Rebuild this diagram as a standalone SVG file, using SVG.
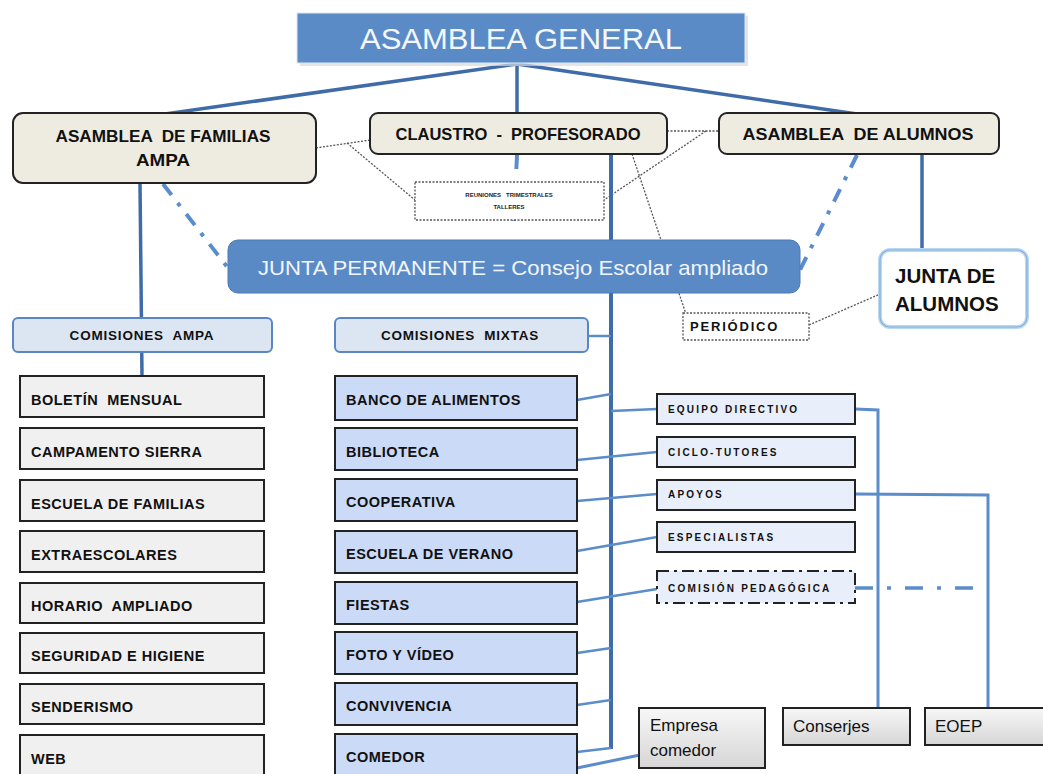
<svg xmlns="http://www.w3.org/2000/svg" width="1043" height="774" viewBox="0 0 1043 774">
<defs>
<linearGradient id="gray" x1="0" y1="0" x2="0" y2="1">
<stop offset="0" stop-color="#f7f7f7"/><stop offset="1" stop-color="#d6d6d6"/>
</linearGradient>
</defs>
<style>
text{font-family:"Liberation Sans",Arial,sans-serif;white-space:pre;}
.solid{stroke:#3f6ca8;stroke-width:3.5;fill:none;}
.thin{stroke:#5b8ccb;stroke-width:2.5;fill:none;}
.dashdot{stroke:#5b8ccb;stroke-width:4;fill:none;stroke-dasharray:14 10 4 10;}
.dotted{stroke:#555;stroke-width:1.3;fill:none;stroke-dasharray:2 1.5;}
.top{fill:#eeece1;stroke:#222;stroke-width:2;}
.toptxt{font-size:17px;font-weight:bold;fill:#111;text-anchor:middle;}
.com{fill:#dce6f2;stroke:#5a87c0;stroke-width:2;}
.comtxt{font-size:13.5px;font-weight:bold;fill:#111;text-anchor:middle;letter-spacing:0.8px;}
.ampa{fill:#f0f0f0;stroke:#222;stroke-width:2;}
.mix{fill:#cbdaf6;stroke:#222;stroke-width:2;}
.itxt{font-size:14.5px;font-weight:bold;fill:#111;letter-spacing:0.5px;}
.eq{fill:#e9effa;stroke:#222;stroke-width:2;}
.eqtxt{font-size:10px;font-weight:bold;fill:#111;letter-spacing:2.2px;}
.grey{fill:url(#gray);stroke:#222;stroke-width:2;}
.gtxt{font-size:17px;fill:#111;}
</style>
<g id="connectors">
<line class="solid" x1="517" y1="64" x2="165" y2="114"/>
<line class="solid" x1="517" y1="64" x2="517" y2="114"/>
<line class="solid" x1="517" y1="64" x2="857" y2="114"/>
<line class="dotted" x1="316" y1="148" x2="370" y2="140"/>
<line class="dotted" x1="347" y1="143" x2="415" y2="200"/>
<line class="dotted" x1="667" y1="131" x2="719" y2="131"/>
<line class="dotted" x1="706" y1="131" x2="604" y2="200"/>
<line class="dotted" x1="632" y1="154" x2="686" y2="314"/>
<line class="dotted" x1="809" y1="325" x2="880" y2="294"/>
<line class="dashdot" x1="163" y1="184" x2="228" y2="268"/>
<line class="dashdot" x1="857" y1="155" x2="800" y2="270"/>
<line class="dashdot" x1="517" y1="155" x2="513" y2="240" style="stroke-dasharray:14 48 4 100"/>
<line class="solid" x1="140" y1="183" x2="142" y2="376"/>
<line class="solid" x1="922" y1="154" x2="922" y2="250"/>
<line class="solid" x1="611" y1="154" x2="611" y2="749" style="stroke-width:4"/>
<line class="thin" x1="588" y1="336" x2="611" y2="336"/>
<line class="thin" x1="577" y1="400" x2="611" y2="394"/>
<line class="thin" x1="611" y1="411" x2="657" y2="409"/>
<line class="thin" x1="577" y1="460" x2="657" y2="452"/>
<line class="thin" x1="577" y1="501" x2="657" y2="494"/>
<line class="thin" x1="577" y1="551" x2="657" y2="537"/>
<line class="thin" x1="577" y1="602" x2="657" y2="589"/>
<line class="thin" x1="577" y1="653" x2="611" y2="648"/>
<line class="thin" x1="577" y1="705" x2="611" y2="700"/>
<line class="thin" x1="577" y1="752" x2="611" y2="748"/>
<line class="thin" x1="577" y1="768" x2="640" y2="755" style="stroke-width:3"/>
<polyline class="thin" points="855,409 878,410 878,708" style="stroke-width:3"/>
<polyline class="thin" points="855,494 988,495 988,708" style="stroke-width:3"/>
<line class="dashdot" x1="855" y1="588" x2="976" y2="588" style="stroke-width:3.5;stroke-dasharray:18 14 4 14"/>
</g>
<g id="asamblea-general">
<rect x="300" y="16" width="448" height="50" fill="#d9d9d9" opacity="0.7"/>
<rect x="297" y="13" width="448" height="50" fill="#5b8bc6" stroke="#dfe8f4" stroke-width="1"/>
<text x="521" y="49" font-size="30" fill="#f4f7fb" text-anchor="middle" textLength="322" lengthAdjust="spacingAndGlyphs">ASAMBLEA GENERAL</text>
</g>
<g id="asamblea-familias">
<rect class="top" x="13" y="113" width="303" height="70" rx="10"/>
<text class="toptxt" x="163" y="142" textLength="215" lengthAdjust="spacingAndGlyphs">ASAMBLEA  DE FAMILIAS</text>
<text class="toptxt" x="163" y="166" textLength="54" lengthAdjust="spacingAndGlyphs">AMPA</text>
</g>
<g id="claustro">
<rect class="top" x="370" y="113" width="297" height="41" rx="8"/>
<text class="toptxt" x="518" y="140" textLength="245" lengthAdjust="spacingAndGlyphs">CLAUSTRO  -  PROFESORADO</text>
</g>
<g id="asamblea-alumnos">
<rect class="top" x="719" y="113" width="280" height="41" rx="8"/>
<text class="toptxt" x="858" y="140" textLength="231" lengthAdjust="spacingAndGlyphs">ASAMBLEA  DE ALUMNOS</text>
</g>
<g id="reuniones">
<rect x="415" y="182" width="189" height="38" fill="#fff" stroke="#555" stroke-width="1.3" stroke-dasharray="2 1.5"/>
<text x="509" y="197" font-size="6" font-weight="bold" fill="#222" text-anchor="middle">REUNIONES   TRIMESTRALES</text>
<text x="509" y="209" font-size="6" font-weight="bold" fill="#222" text-anchor="middle">TALLERES</text>
</g>
<g id="junta-permanente">
<rect x="228" y="240" width="572" height="53" rx="10" fill="#5a8ac6" stroke="#4a79b5" stroke-width="1"/>
<text x="513" y="275" font-size="21" fill="#f2f6fb" text-anchor="middle" textLength="510" lengthAdjust="spacingAndGlyphs">JUNTA PERMANENTE = Consejo Escolar ampliado</text>
</g>
<g id="junta-alumnos">
<rect x="880" y="250" width="147" height="77" rx="10" fill="#fff" stroke="#bcd7f0" stroke-width="4"/>
<rect x="880" y="250" width="147" height="77" rx="10" fill="none" stroke="#7fb0de" stroke-width="1.2"/>
<text x="895" y="283" font-size="20.5" font-weight="bold" fill="#111">JUNTA DE</text>
<text x="895" y="311" font-size="20.5" font-weight="bold" fill="#111">ALUMNOS</text>
</g>
<g id="periodico">
<rect x="683" y="313" width="126" height="27" fill="#fff" stroke="#555" stroke-width="1.3" stroke-dasharray="2 1.5"/>
<text x="690" y="331" font-size="13" font-weight="bold" fill="#111" letter-spacing="1.8">PERIÓDICO</text>
</g>
<g id="comisiones-ampa">
<rect class="com" x="13" y="318" width="259" height="34" rx="5"/>
<text class="comtxt" x="142" y="340">COMISIONES  AMPA</text>
</g>
<g id="comisiones-mixtas">
<rect class="com" x="335" y="318" width="253" height="34" rx="5"/>
<text class="comtxt" x="460" y="340">COMISIONES  MIXTAS</text>
</g>
<g id="boletin"><rect class="ampa" x="20" y="376" width="244" height="41"/><text class="itxt" x="31" y="405">BOLETÍN  MENSUAL</text></g>
<g id="campamento"><rect class="ampa" x="20" y="428" width="244" height="41"/><text class="itxt" x="31" y="457">CAMPAMENTO SIERRA</text></g>
<g id="escuela-familias"><rect class="ampa" x="20" y="480" width="244" height="41"/><text class="itxt" x="31" y="509">ESCUELA DE FAMILIAS</text></g>
<g id="extraescolares"><rect class="ampa" x="20" y="531" width="244" height="41"/><text class="itxt" x="31" y="560">EXTRAESCOLARES</text></g>
<g id="horario"><rect class="ampa" x="20" y="583" width="244" height="40"/><text class="itxt" x="31" y="611">HORARIO  AMPLIADO</text></g>
<g id="seguridad"><rect class="ampa" x="20" y="633" width="244" height="40"/><text class="itxt" x="31" y="661">SEGURIDAD E HIGIENE</text></g>
<g id="senderismo"><rect class="ampa" x="20" y="684" width="244" height="40"/><text class="itxt" x="31" y="712">SENDERISMO</text></g>
<g id="web"><rect class="ampa" x="20" y="735" width="244" height="41"/><text class="itxt" x="31" y="764">WEB</text></g>
<g id="banco"><rect class="mix" x="335" y="376" width="242" height="44"/><text class="itxt" x="346" y="405">BANCO DE ALIMENTOS</text></g>
<g id="biblioteca"><rect class="mix" x="335" y="428" width="242" height="42"/><text class="itxt" x="346" y="457">BIBLIOTECA</text></g>
<g id="cooperativa"><rect class="mix" x="335" y="479" width="242" height="42"/><text class="itxt" x="346" y="507">COOPERATIVA</text></g>
<g id="escuela-verano"><rect class="mix" x="335" y="531" width="242" height="42"/><text class="itxt" x="346" y="559">ESCUELA DE VERANO</text></g>
<g id="fiestas"><rect class="mix" x="335" y="582" width="242" height="42"/><text class="itxt" x="346" y="610">FIESTAS</text></g>
<g id="foto"><rect class="mix" x="335" y="632" width="242" height="42"/><text class="itxt" x="346" y="660">FOTO Y VÍDEO</text></g>
<g id="convivencia"><rect class="mix" x="335" y="683" width="242" height="42"/><text class="itxt" x="346" y="711">CONVIVENCIA</text></g>
<g id="comedor"><rect class="mix" x="335" y="734" width="242" height="42"/><text class="itxt" x="346" y="762">COMEDOR</text></g>
<g id="equipo-directivo"><rect class="eq" x="657" y="394" width="198" height="30"/><text class="eqtxt" x="668" y="413">EQUIPO DIRECTIVO</text></g>
<g id="ciclo-tutores"><rect class="eq" x="657" y="437" width="198" height="30"/><text class="eqtxt" x="668" y="456">CICLO-TUTORES</text></g>
<g id="apoyos"><rect class="eq" x="657" y="480" width="198" height="30"/><text class="eqtxt" x="668" y="498">APOYOS</text></g>
<g id="especialistas"><rect class="eq" x="657" y="522" width="198" height="30"/><text class="eqtxt" x="668" y="541">ESPECIALISTAS</text></g>
<g id="comision-pedagogica"><rect x="657" y="571" width="198" height="32" fill="#e9effa" stroke="#222" stroke-width="2" stroke-dasharray="12 5 3 5"/><text class="eqtxt" x="668" y="592">COMISIÓN PEDAGÓGICA</text></g>
<g id="empresa-comedor"><rect class="grey" x="639" y="708" width="126" height="60"/><text class="gtxt" x="650" y="731">Empresa</text><text class="gtxt" x="650" y="756">comedor</text></g>
<g id="conserjes"><rect class="grey" x="783" y="708" width="127" height="37"/><text class="gtxt" x="793" y="732">Conserjes</text></g>
<g id="eoep"><rect class="grey" x="925" y="708" width="125" height="37"/><text class="gtxt" x="935" y="732">EOEP</text></g>
</svg>
